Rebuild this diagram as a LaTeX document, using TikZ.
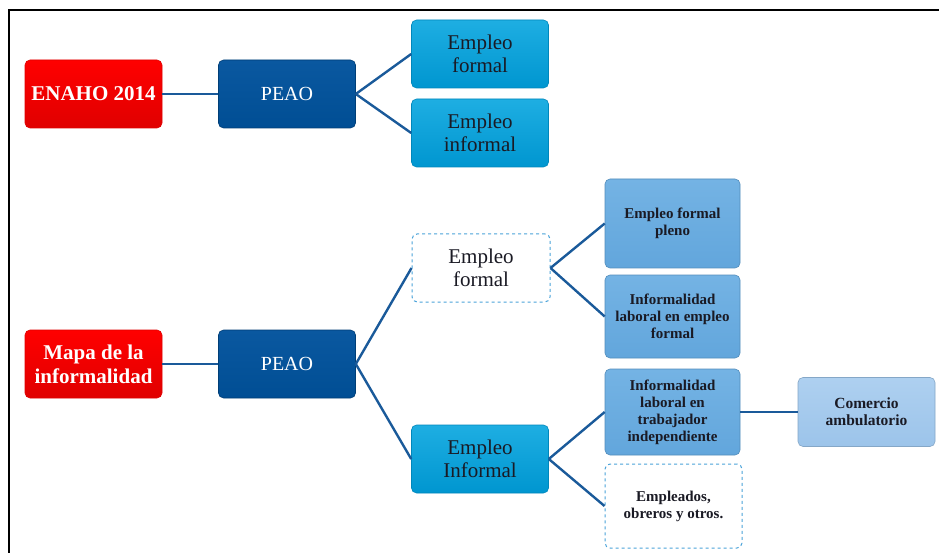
\documentclass[tikz,border=0pt]{standalone}
\usepackage{fontspec}
\setmainfont{Liberation Serif}
\definecolor{cRed}{HTML}{FF0000}
\definecolor{cRedD}{HTML}{E00000}
\definecolor{cDark}{HTML}{0A58A0}
\definecolor{cDarkD}{HTML}{004E94}
\definecolor{cCyan}{HTML}{1EAEE2}
\definecolor{cCyanD}{HTML}{0096D0}
\definecolor{cMid}{HTML}{74B3E4}
\definecolor{cMidD}{HTML}{62A6DC}
\definecolor{cPale}{HTML}{AED0F0}
\definecolor{cPaleD}{HTML}{9CC4EA}
\definecolor{cLine}{HTML}{1A5A9A}
\definecolor{cDash}{HTML}{4AA3DA}
\definecolor{cTxt}{HTML}{1A1A24}
\begin{document}
\begin{tikzpicture}[x=1pt,y=-1pt,
  box/.style={rounded corners=5pt,align=center,inner sep=1pt,
    minimum width=137pt,minimum height=68pt},
  redbox/.style={box,top color=cRed,bottom color=cRedD,draw=cRedD,line width=0.6pt,
    text=white,font=\bfseries\fontsize{21}{24}\selectfont},
  darkbox/.style={box,top color=cDark,bottom color=cDarkD,draw=cDarkD!80!black,line width=0.6pt,
    text=white,font=\fontsize{20}{22}\selectfont},
  cyanbox/.style={box,top color=cCyan,bottom color=cCyanD,draw=cCyanD!90!black,line width=0.6pt,
    text=cTxt,font=\fontsize{21}{23}\selectfont},
  dashbox/.style={box,fill=white,draw=cDash,dashed,line width=1pt,
    text=cTxt,font=\fontsize{21}{23}\selectfont},
  midbox/.style={box,minimum width=135pt,top color=cMid,bottom color=cMidD,draw=cMidD!85!black,line width=0.6pt,
    text=cTxt,font=\bfseries\fontsize{15}{17}\selectfont},
  palebox/.style={box,top color=cPale,bottom color=cPaleD,draw=cPaleD!85!black,line width=0.6pt,
    text=cTxt,font=\bfseries\fontsize{15.5}{17}\selectfont},
  dashsmall/.style={box,minimum width=137pt,fill=white,draw=cDash,dashed,line width=1pt,
    text=cTxt,font=\bfseries\fontsize{15}{17}\selectfont},
  conn/.style={draw=cLine,line width=2.4pt}
]
\useasboundingbox (0,0) rectangle (939,553);
\fill[white] (0,0) rectangle (939,553);
\draw[black,line width=1.6pt] (9,553) -- (9,10) -- (939,10);

% top tree
\node[redbox] (enaho) at (93.5,94) {ENAHO 2014};
\node[darkbox] (peaoA) at (287,94) {PEAO};
\node[cyanbox] (efA) at (480,54) {Empleo\\formal};
\node[cyanbox] (eiA) at (480,133) {Empleo\\informal};

% bottom tree
\node[redbox] (mapa) at (93.5,364) {Mapa de la\\informalidad};
\node[darkbox] (peaoB) at (287,364) {PEAO};
\node[dashbox,minimum width=138pt] (efB) at (481,268) {Empleo\\formal};
\node[cyanbox] (eiB) at (480,459) {Empleo\\Informal};
\node[midbox,minimum height=89pt] (pleno) at (672.5,223.5) {Empleo formal\\pleno};
\node[midbox,minimum height=83pt] (ilef) at (672.5,316.5) {Informalidad\\laboral en empleo\\formal};
\node[midbox,minimum height=86pt] (ilti) at (672.5,412) {Informalidad\\laboral en\\trabajador\\independiente};
\node[palebox,minimum height=69pt] (comer) at (866.5,412) {Comercio\\ambulatorio};
\node[dashsmall,minimum height=84pt] (empl) at (673.5,506) {Empleados,\\obreros y otros.};

% connectors
\draw[conn] (enaho.east) -- (peaoA.west);
\draw[conn] (peaoA.east) -- (efA.west);
\draw[conn] (peaoA.east) -- (eiA.west);
\draw[conn] (mapa.east) -- (peaoB.west);
\draw[conn] (peaoB.east) -- (efB.west);
\draw[conn] (peaoB.east) -- (eiB.west);
\draw[conn] (efB.east) -- (pleno.west);
\draw[conn] (efB.east) -- (ilef.west);
\draw[conn] (eiB.east) -- (ilti.west);
\draw[conn] (eiB.east) -- (empl.west);
\draw[conn] (ilti.east) -- (comer.west);
\end{tikzpicture}
\end{document}
